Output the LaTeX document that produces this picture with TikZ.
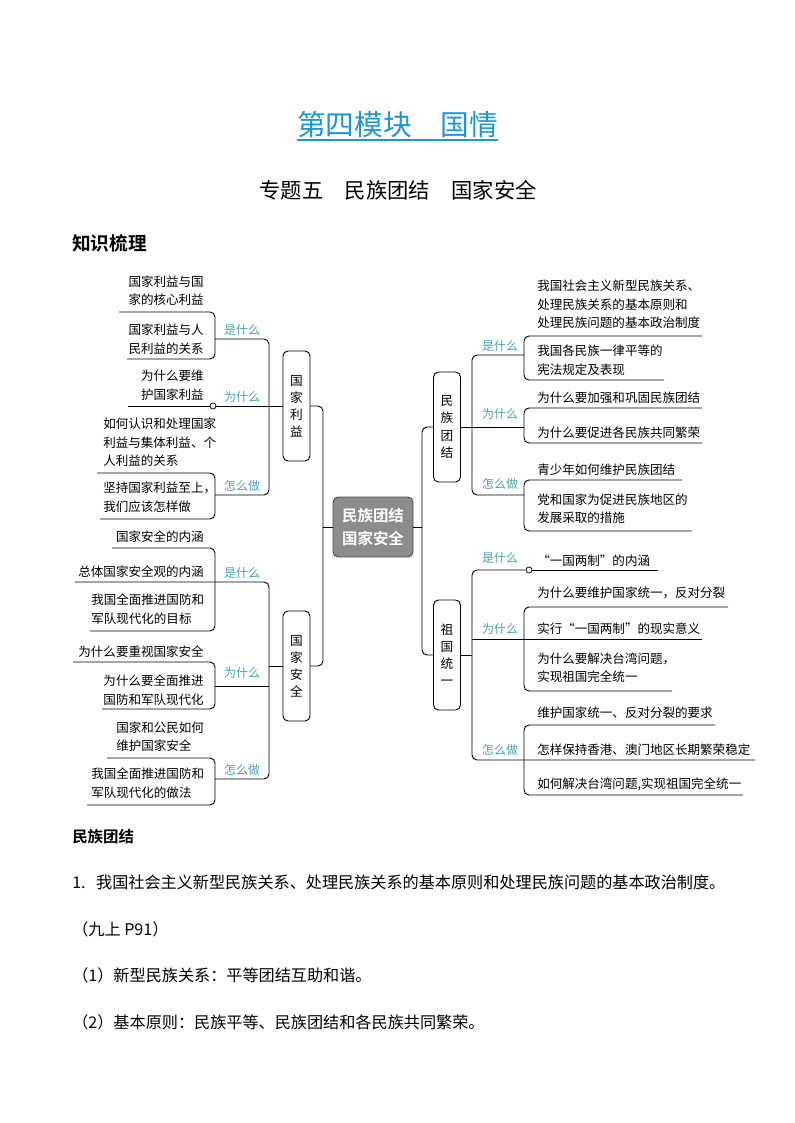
\documentclass[tikz,border=0pt]{standalone}
\usepackage{fontspec}
\setmainfont{Noto Sans CJK SC}[BoldFont={Noto Sans CJK SC Bold}]
\definecolor{titleblue}{RGB}{30,150,210}
\definecolor{labteal}{RGB}{70,160,182}
\definecolor{rootgray}{RGB}{140,140,140}
\tikzset{
  leaf/.style={inner sep=0pt, font=\fontsize{9.4}{13.9}\selectfont},
  leafL/.style={leaf, anchor=east, align=right},
  leafR/.style={leaf, anchor=west, align=left},
  lab/.style={inner sep=0pt, text=labteal, font=\fontsize{9}{11}\selectfont},
  topic/.style={draw, rounded corners=3.75pt, line width=0.7pt, minimum width=20.25pt,
    minimum height=82.5pt, inner sep=0pt, align=center, font=\fontsize{9.5}{12.8}\selectfont},
  root/.style={draw=black!70, fill=rootgray, text=white, rounded corners=3.75pt, line width=0.7pt,
    minimum width=60pt, minimum height=45pt, inner sep=0pt, align=center,
    font=\bfseries\fontsize{11.6}{17}\selectfont},
  branch/.style={line width=0.7pt, rounded corners=3.75pt},
  knot/.style={circle, draw, fill=white, inner sep=0pt, minimum size=4.5pt, line width=0.55pt},
  body/.style={inner sep=0pt, anchor=west, font=\fontsize{12.1}{14}\selectfont}
}
\begin{document}
\begin{tikzpicture}[x=0.75pt, y=-0.75pt]
\useasboundingbox (0,0) rectangle (794,1123);

% titles
\node[inner sep=0pt, text=titleblue, font=\fontsize{21.5}{24}\selectfont] (title) at (397.5,125) {第四模块　国情};
\draw[titleblue, line width=1.1pt] ([yshift=-1pt]title.south west) -- ([yshift=-1pt]title.south east);
\node[inner sep=0pt, font=\fontsize{16}{18}\selectfont] (subtitle) at (398,190) {专题五　民族团结　国家安全};
\node[inner sep=0pt, anchor=west, font=\bfseries\fontsize{14}{16}\selectfont] (head) at (72,243) {知识梳理};

% centre and topics
\node[root] (root) at (373,527) {民族团结\\国家安全};
\node[topic] (gjly) at (296.5,406) {国\\家\\利\\益};
\node[topic] (gjaq) at (296.5,666) {国\\家\\安\\全};
\node[topic] (mztj) at (447,427) {民\\族\\团\\结};
\node[topic] (zgty) at (447,655) {祖\\国\\统\\一};

\draw[branch] (gjly.east) -- (323,406) -- (323,666) -- (gjaq.east);
\draw[branch] (323,527) -- (root.west);
\draw[branch] (mztj.west) -- (422,427) -- (422,655) -- (zgty.west);
\draw[branch] (root.east) -- (422,527);

% 国家利益
\node[leafL] (a1) at (204,290.5) {国家利益与国\\家的核心利益};
\node[leafL] (a2) at (204,339) {国家利益与人\\民利益的关系};
\node[leafL] (a3) at (204,385) {为什么要维\\护国家利益};
\node[leafR] (a4) at (103,442.5) {如何认识和处理国家\\利益与集体利益、个\\人利益的关系};
\node[leafR] (a5) at (103,497) {坚持国家利益至上，\\我们应该怎样做};
\node[knot] (kA) at (213,406) {};
\draw[branch] (119,312) -- (215,312) -- (215,359) -- (127,359);
\draw[branch] (215,339) -- (269,339) -- (269,495) -- (215,495);
\draw[branch] (97,473) -- (215,473) -- (215,519) -- (100,519);
\draw[branch] (128,406) -- (kA.west);
\draw[branch] (kA.east) -- (gjly.west);
\node[lab] (qA1) at (242,330) {是什么};
\node[lab] (qA2) at (242,397) {为什么};
\node[lab] (qA3) at (242,486) {怎么做};

% 国家安全
\node[leafL] (b1) at (204,537) {国家安全的内涵};
\node[leafL] (b2) at (204,572) {总体国家安全观的内涵};
\node[leafR] (b3) at (91,609) {我国全面推进国防和\\军队现代化的目标};
\node[leafL] (b4) at (204,652) {为什么要重视国家安全};
\node[leafL] (b5) at (204,690) {为什么要全面推进\\国防和军队现代化};
\node[leafR] (b6) at (116,736.5) {国家和公民如何\\维护国家安全};
\node[leafR] (b7) at (91,783) {我国全面推进国防和\\军队现代化的做法};
\draw[branch] (112,548) -- (215,548) -- (215,631) -- (90,631);
\draw[branch] (75,582) -- (269,582) -- (269,779) -- (215,779);
\draw[branch] (73,662) -- (215,662) -- (215,709) -- (102,709);
\draw[branch] (215,686) -- (269,686);
\draw[branch] (107,758) -- (215,758) -- (215,805) -- (87,805);
\draw[branch] (269,666) -- (gjaq.west);
\node[lab] (qB1) at (242,573) {是什么};
\node[lab] (qB2) at (242,673) {为什么};
\node[lab] (qB3) at (242,770) {怎么做};

% 民族团结
\node[leafR] (c1) at (537,304.5) {我国社会主义新型民族关系、\\处理民族关系的基本原则和\\处理民族问题的基本政治制度};
\node[leafR] (c2) at (537,360) {我国各民族一律平等的\\宪法规定及表现};
\node[leafR] (c3) at (537,398) {为什么要加强和巩固民族团结};
\node[leafR] (c4) at (537,433) {为什么要促进各民族共同繁荣};
\node[leafR] (c5) at (537,470) {青少年如何维护民族团结};
\node[leafR] (c6) at (537,508.5) {党和国家为促进民族地区的\\发展采取的措施};
\draw[branch] (524,355) -- (472,355) -- (472,495) -- (524,495);
\draw[branch] (mztj.east) -- (524,427);
\draw[branch] (702,336) -- (524,336) -- (524,380) -- (664,380);
\draw[branch] (702,408) -- (524,408) -- (524,443) -- (702,443);
\draw[branch] (682,480) -- (524,480) -- (524,531) -- (692,531);
\node[lab] (qC1) at (500,346) {是什么};
\node[lab] (qC2) at (500,414) {为什么};
\node[lab] (qC3) at (500,484) {怎么做};

% 祖国统一
\node[leafR] (d1) at (537,561) {“一国两制”的内涵};
\node[leafR] (d2) at (537,593) {为什么要维护国家统一，反对分裂};
\node[leafR] (d3) at (537,629) {实行“一国两制”的现实意义};
\node[leafR] (d4) at (537,667.5) {为什么要解决台湾问题，\\实现祖国完全统一};
\node[leafR] (d5) at (537,713) {维护国家统一、反对分裂的要求};
\node[leafR] (d6) at (537,750) {怎样保持香港、澳门地区长期繁荣稳定};
\node[leafR] (d7) at (537,784) {如何解决台湾问题,实现祖国完全统一};
\node[knot] (kB) at (529,570) {};
\draw[branch] (kB.west) -- (472,570) -- (472,760) -- (755,760);
\draw[branch] (kB.east) -- (658,570);
\draw[branch] (zgty.east) -- (472,655);
\draw[branch] (728,607) -- (524,607) -- (524,691) -- (672,691);
\draw[branch] (472,639) -- (702,639);
\draw[branch] (715,725) -- (524,725) -- (524,795) -- (743,795);
\node[lab] (qD1) at (500,558) {是什么};
\node[lab] (qD2) at (500,629) {为什么};
\node[lab] (qD3) at (500,750) {怎么做};

% text below
\node[inner sep=0pt, anchor=west, font=\bfseries\fontsize{11.6}{14}\selectfont] (sec) at (72,837) {民族团结};
\node[body] (p1) at (72,882) {1.\hspace{0.65em}我国社会主义新型民族关系、处理民族关系的基本原则和处理民族问题的基本政治制度。};
\node[body] (p2) at (72,929) {（九上 P91）};
\node[body] (p3) at (72,975) {（1）新型民族关系：平等团结互助和谐。};
\node[body] (p4) at (72,1022) {（2）基本原则：民族平等、民族团结和各民族共同繁荣。};
\end{tikzpicture}
\end{document}
